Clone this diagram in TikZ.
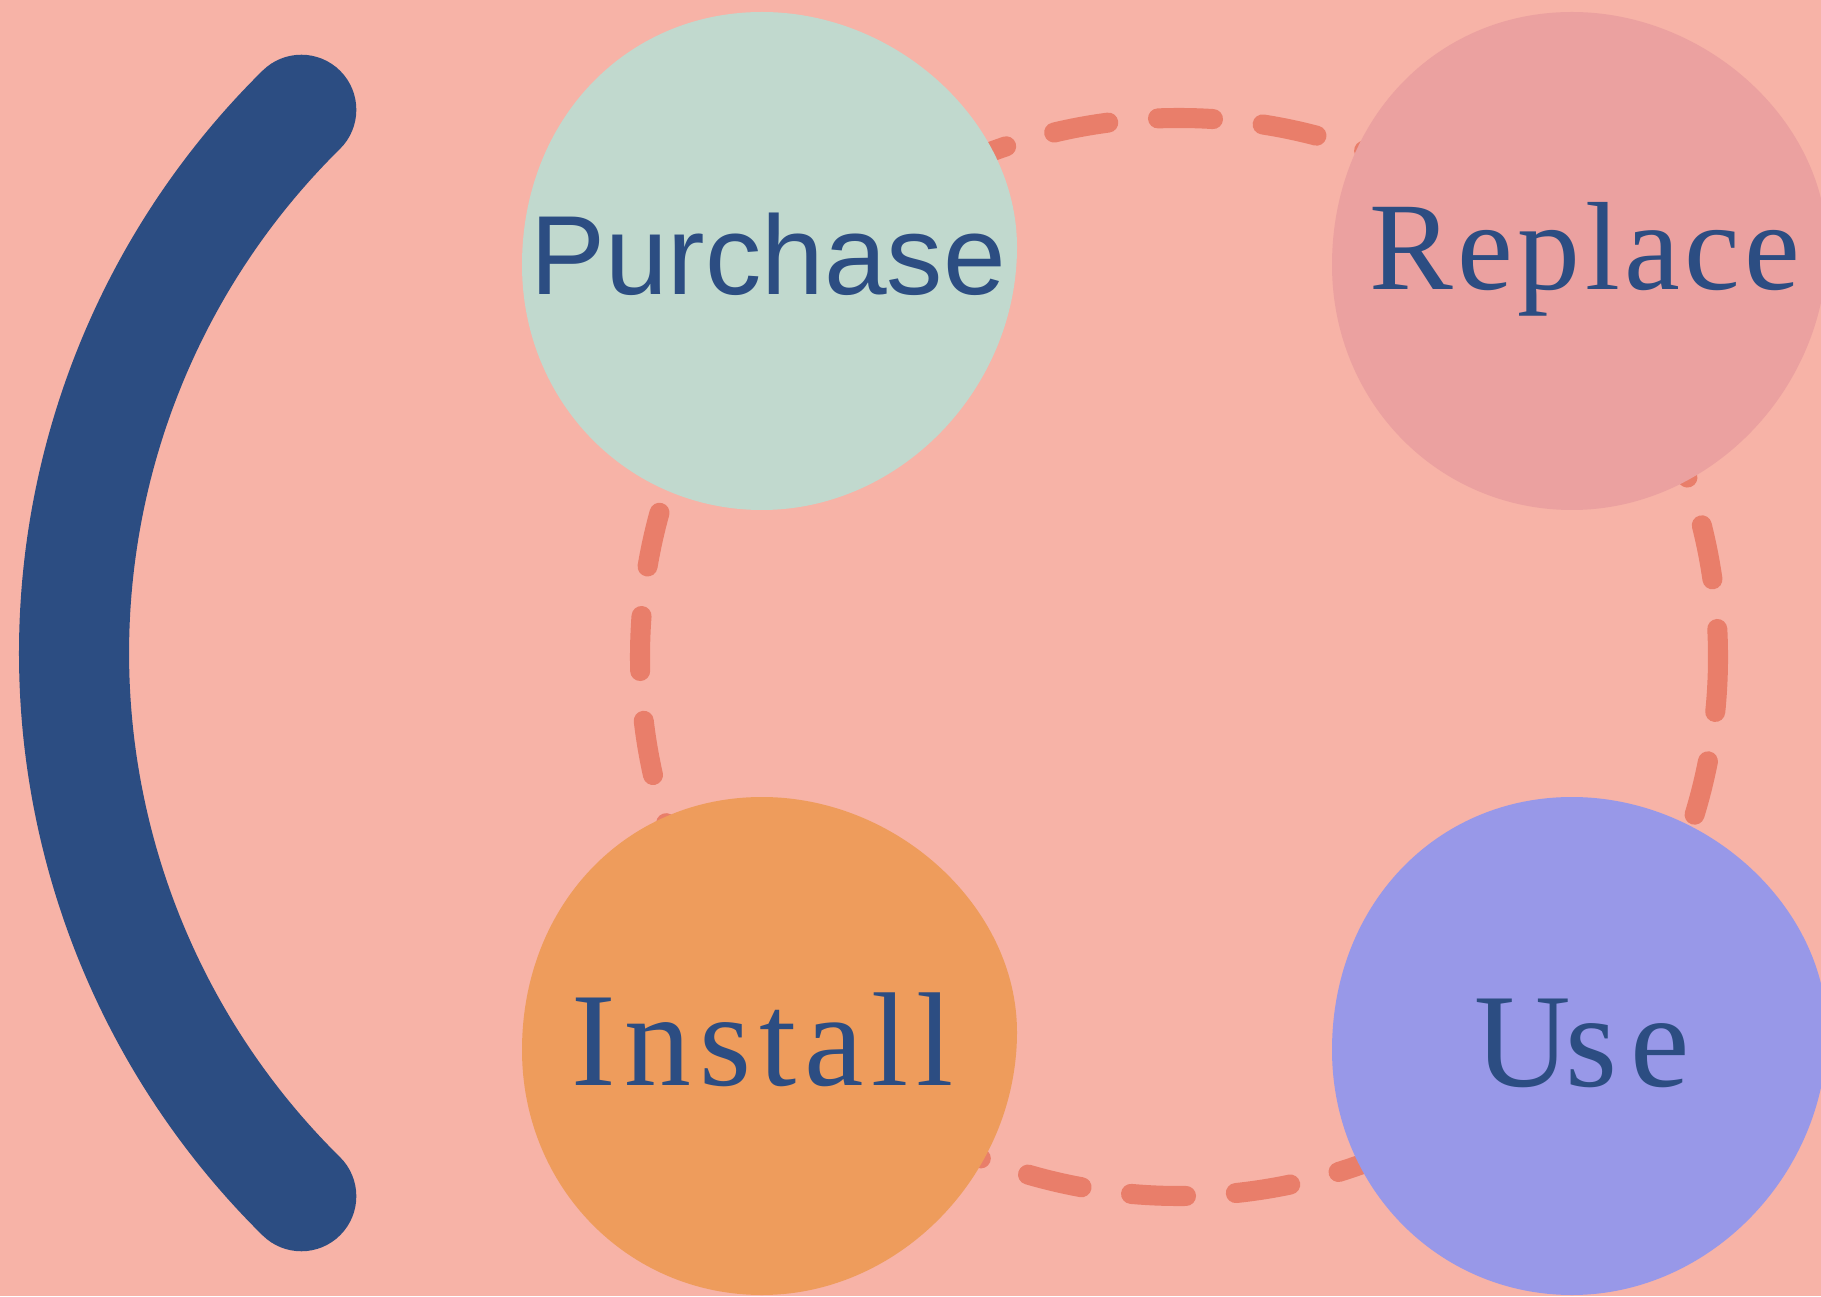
\documentclass[tikz,border=0pt]{standalone}
\usepackage{fontspec}
\newfontfamily\arialfont{Liberation Sans}
\newfontfamily\timesfont{Liberation Serif}

\definecolor{bgpink}{HTML}{F7B3A7}
\definecolor{dashred}{HTML}{E97E6A}
\definecolor{mintfill}{HTML}{C1D9CE}
\definecolor{rosefill}{HTML}{EBA1A0}
\definecolor{orangefill}{HTML}{EE9C5C}
\definecolor{lilacfill}{HTML}{9898E8}
\definecolor{navytext}{HTML}{2C4D82}

% 丸(左上の角を基準に置く)
\newcommand{\drawblob}[3]{%
  \fill[#3,shift={(#1,#2)}] (240,0) .. controls (375,0) and (495,-110) .. (495,-235)
    .. controls (495,-377) and (378,-498) .. (240,-498)
    .. controls (106,-498) and (0,-390) .. (0,-253)
    .. controls (0,-109) and (103,0) .. (240,0) -- cycle;}

\begin{document}
\begin{tikzpicture}[x=0.01cm,y=0.01cm,
  cyclering/.style={draw=dashred,line width=5.7pt,line cap=round,dash pattern=on 15.65pt off 14.2pt},
  bracketline/.style={draw=navytext,line width=31.3pt,line cap=round},
  wordlabel/.style={text=navytext,inner sep=0pt,anchor=base}]
  %背景
  \useasboundingbox (0,0) rectangle (1821,1296);
  \clip (0,0) rectangle (1821,1296);
  \fill[bgpink] (0,0) rectangle (1821,1296);

  %左のかっこ
  \coordinate (kakko) at (837,643);
  \draw[bracketline] (kakko) ++(134.6:763) arc[start angle=134.6,end angle=225.4,radius=763];

  %点線の輪
  \coordinate (wa) at (1179,639);
  \draw[cyclering] (wa) ++(539,0) arc[start angle=0,end angle=-360,radius=539];

  %丸
  \drawblob{522}{1284}{mintfill}
  \drawblob{1332}{1284}{rosefill}
  \drawblob{522}{499}{orangefill}
  \drawblob{1332}{499}{lilacfill}

  %文字
  \node[wordlabel,font=\arialfont\fontsize{32}{38}\selectfont] (purchase) at (768,1001) {Purchase};
  \node[wordlabel,font=\timesfont\fontsize{35.7}{42}\selectfont\addfontfeature{LetterSpace=3.5}] (replace) at (1585,1006) {Replace};
  \node[wordlabel,font=\timesfont\fontsize{38}{44}\selectfont\addfontfeature{LetterSpace=6}] (install) at (763,211) {Install};
  \node[wordlabel,font=\timesfont\fontsize{38}{44}\selectfont] (use) at (1582,210) {U\kern-1.4pt s\kern3.7pt e};
\end{tikzpicture}
\end{document}
